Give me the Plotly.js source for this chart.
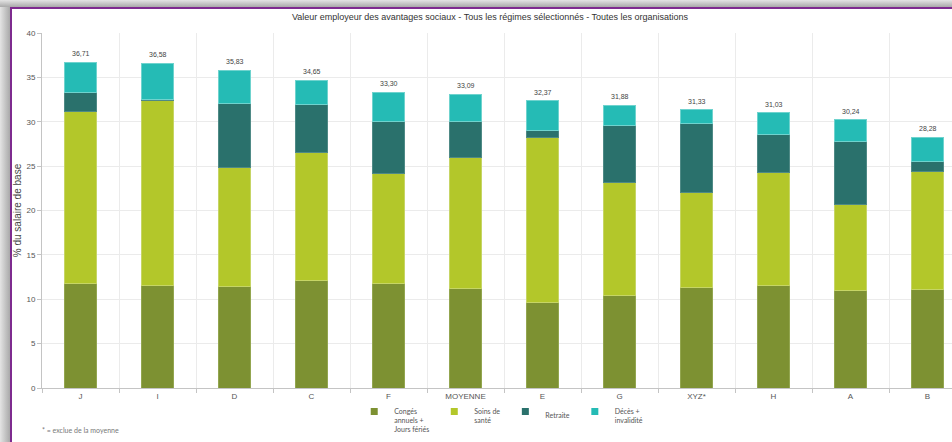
<!DOCTYPE html>
<html>
<head>
<meta charset="utf-8">
<script src="https://cdn.plot.ly/plotly-3.0.1.min.js"></script>
<style>
html, body { margin:0; padding:0; width:952px; height:442px; overflow:hidden; background:#ffffff; }
#shadeL { position:absolute; left:0; top:0; width:10px; height:442px; background:linear-gradient(to right,#e4e4e4,#a9a9a9); }
#shadeT { position:absolute; left:0; top:0; width:952px; height:7px; background:linear-gradient(to bottom,#e4e4e4,#a9a9a9); }
#lineL { position:absolute; left:10px; top:7px; width:2px; height:435px; background:#7e2b8f; }
#lineT { position:absolute; left:10px; top:7px; width:942px; height:2px; background:#7e2b8f; }
#chart { position:absolute; left:0; top:0; width:1000px; height:442px; }
</style>
</head>
<body>
<div id="shadeL"></div>
<div id="shadeT"></div>
<div id="lineL"></div>
<div id="lineT"></div>
<div id="chart"></div>
<script>
// ---- data ----
const categories = ['J','I','D','C','F','MOYENNE','E','G','XYZ*','H','A','B'];
const conges   = [11.83, 11.60, 11.42, 12.13, 11.79, 11.19, 9.61, 10.37, 11.27, 11.53, 11.00, 11.08];
const soins    = [19.38, 20.78, 13.41, 14.35, 12.36, 14.80, 18.67, 12.77, 10.81, 12.77, 9.73, 13.30];
const retraite = [2.06, 0.10, 7.24, 5.41, 5.85, 4.01, 0.72, 6.42, 7.74, 4.21, 7.10, 1.12];
const deces    = [3.44, 4.10, 3.76, 2.76, 3.30, 3.09, 3.37, 2.32, 1.51, 2.52, 2.41, 2.78];
const totals   = [36.71, 36.58, 35.83, 34.65, 33.30, 33.09, 32.37, 31.88, 31.33, 31.03, 30.24, 28.28];
const seriesNames = ['Congés<br>annuels +<br>Jours fériés', 'Soins de<br>santé', 'Retraite', 'Décès +<br>invalidité'];

const colors = ['#7d9132', '#b3c72a', '#2a716c', '#25bbb5'];
const lineColors = ['#93a650', '#c6d565', '#4f8a86', '#6fd3ce'];
const seriesVals = [conges, soins, retraite, deces];

const traces = seriesVals.map((vals, i) => ({
  type: 'bar',
  x: categories,
  y: vals,
  name: seriesNames[i],
  legendgroup: 'g' + i,
  showlegend: false,
  marker: { color: colors[i], line: { color: lineColors[i], width: 1 } },
  hoverinfo: 'skip'
}));
// legend entries with small square symbols
seriesVals.forEach((vals, i) => {
  traces.push({
    type: 'scatter', mode: 'markers',
    x: [categories[0]], y: [null],
    name: seriesNames[i],
    legendgroup: 'g' + i,
    showlegend: true,
    marker: { symbol: 'square', size: 7, color: colors[i] },
    hoverinfo: 'skip'
  });
});

const fmt = v => v.toFixed(2).replace('.', ',');
const annotations = categories.map((c, i) => ({
  x: c, y: totals[i], xref: 'x', yref: 'y',
  text: fmt(totals[i]), showarrow: false,
  yanchor: 'bottom', yshift: 3,
  font: { family: 'Liberation Sans, Arial, sans-serif', size: 7, color: '#444' }
}));
annotations.push({
  xref: 'paper', yref: 'paper', x: -0.002, y: -0.118,
  xanchor: 'left', yanchor: 'middle', showarrow: false,
  text: '* = exclue de la moyenne',
  font: { family: 'Lato, Open Sans, sans-serif', size: 7, color: '#777' }
});

const layout = {
  width: 1000, height: 442,
  margin: { l: 42, r: 34, t: 33, b: 54, autoexpand: false },
  paper_bgcolor: 'rgba(0,0,0,0)',
  plot_bgcolor: '#ffffff',
  barmode: 'stack',
  bargap: 0.595,
  separators: ',.',
  title: {
    text: 'Valeur employeur des avantages sociaux - Tous les régimes sélectionnés - Toutes les organisations',
    x: 0.49, xref: 'container', xanchor: 'center',
    y: 1 - 17/442, yref: 'container', yanchor: 'middle',
    font: { family: 'Liberation Sans, Arial, sans-serif', size: 9, color: '#333' }
  },
  xaxis: {
    type: 'category',
    range: [-0.5, 11.5],
    tickson: 'boundaries',
    ticks: 'outside', ticklen: 4, tickcolor: '#c4c4c4',
    showgrid: true, gridcolor: '#ebebeb',
    showline: true, linecolor: '#c4c4c4', linewidth: 1,
    tickfont: { family: 'Liberation Sans, Arial, sans-serif', size: 8, color: '#555' },
    automargin: false,
    fixedrange: true
  },
  yaxis: {
    range: [0, 40], dtick: 5,
    ticks: 'outside', ticklen: 4, tickcolor: '#c4c4c4',
    showgrid: true, gridcolor: '#ebebeb',
    showline: true, linecolor: '#c4c4c4', linewidth: 1,
    zeroline: false,
    tickfont: { family: 'Liberation Sans, Arial, sans-serif', size: 8, color: '#555' },
    title: { text: '% du salaire de base', standoff: 2, font: { family: 'Liberation Sans, Arial, sans-serif', size: 10, color: '#444' } },
    automargin: false,
    fixedrange: true
  },
  legend: {
    orientation: 'h',
    x: 0.497, xanchor: 'center',
    y: -0.035, yanchor: 'top',
    traceorder: 'normal',
    valign: 'top',
    font: { family: 'Lato, Open Sans, sans-serif', size: 7, color: '#555' },
    itemwidth: 30
  },
  annotations: annotations,
  showlegend: true
};

Plotly.newPlot('chart', traces, layout, { displayModeBar: false, staticPlot: true });
</script>
</body>
</html>
